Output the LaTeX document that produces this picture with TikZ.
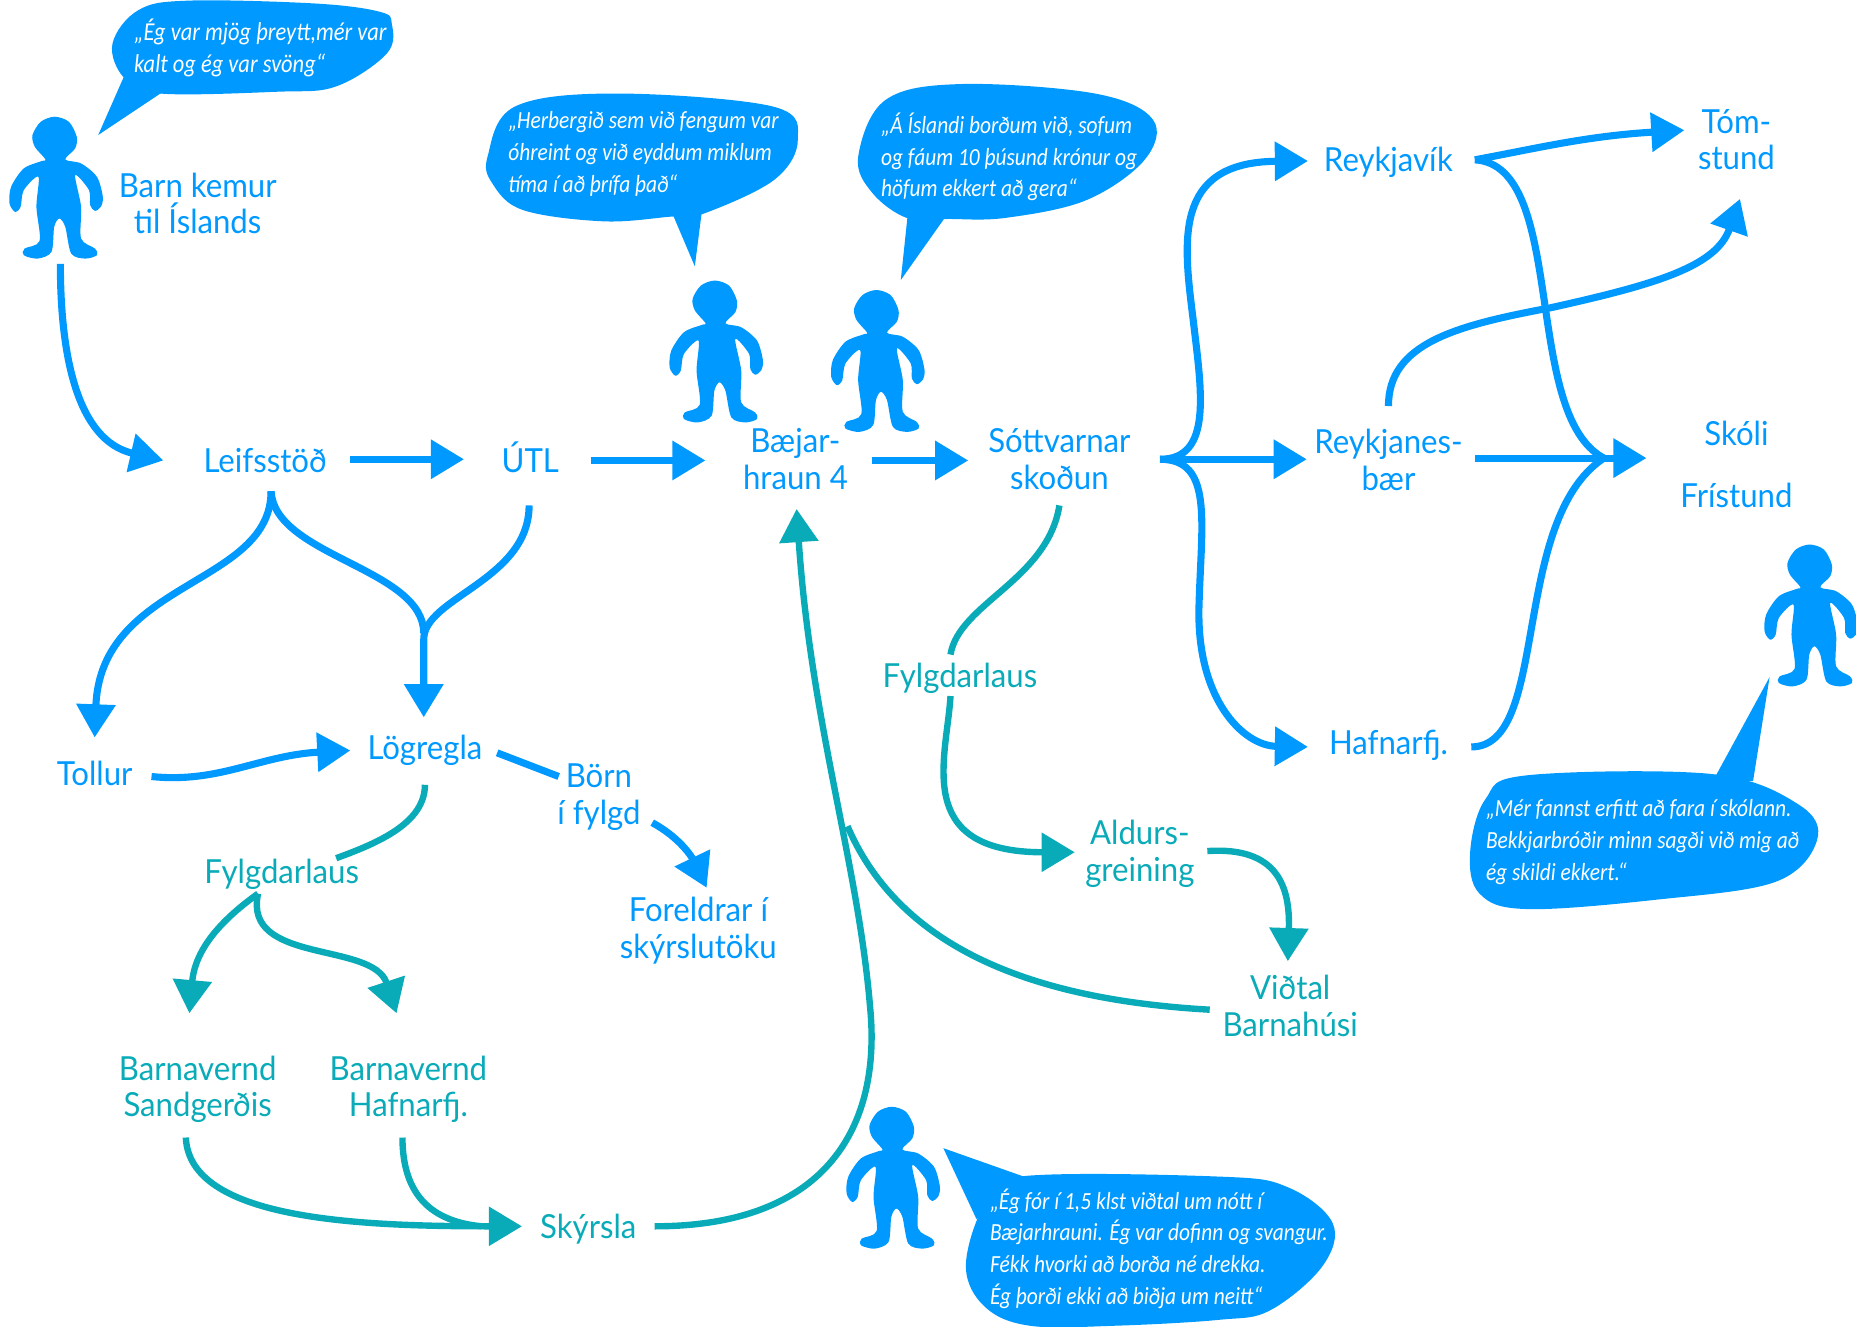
\documentclass[tikz,border=0pt]{standalone}
\usepackage{fontspec}
\setmainfont{Lato}
\newfontfamily\lblfont[FakeStretch=0.94]{Lato}
\newfontfamily\quotefont[FakeStretch=0.87,ItalicFont={Carlito Italic}]{Carlito}
\usetikzlibrary{arrows.meta,calc}
\definecolor{kblue}{HTML}{0099FF}
\definecolor{kteal}{HTML}{0AABB8}
\tikzset{
  lbl/.style={font=\lblfont\fontsize{14}{15.5}\selectfont,align=center,inner sep=0pt,anchor=center,text=kblue},
  tlbl/.style={lbl,text=kteal},
  oneline/.style={text height=11pt,text depth=1pt},
  quote/.style={font=\quotefont\itshape\fontsize{10.4}{13.5}\selectfont,align=left,inner sep=0pt,anchor=west,text=white},
  bl/.style={draw=kblue,line width=3pt},
  te/.style={draw=kteal,line width=2.7pt},
  blar/.style={bl,-{Triangle[length=14pt,width=16pt,fill=kblue]}},
  tear/.style={te,-{Triangle[length=14pt,width=16pt,fill=kteal]}},
}
\newcommand\twolines[2]{\raisebox{0pt}[11pt][1pt]{#1}\\\raisebox{0pt}[11pt][1pt]{#2}}
\newcommand\kid[2]{\fill[kblue,shift={(#1,#2)},xscale=.334,yscale=.282,shift={(-140,-350)}]
  plot[smooth cycle,tension=.5] coordinates{(115,478)(88,440)(82,405)(103,365)(138,350)(174,365)(194,410)(190,445)(165,478)(205,490)(245,530)(260,590)(255,620)(240,632)(228,615)(225,570)(190,525)(205,620)(205,715)(240,745)(245,765)(215,775)(180,760)(165,680)(150,655)(137,680)(130,755)(95,775)(60,765)(62,745)(100,722)(92,620)(97,530)(60,570)(52,620)(38,635)(24,610)(28,560)(60,505)(105,483)};}
\begin{document}
\begin{tikzpicture}[x=0.5pt,y=-0.5pt]
\useasboundingbox (0,0) rectangle (1568,1120.3);
% people
\kid{46.8}{98.6}
\kid{604.5}{237}
\kid{741}{245}
\kid{1529.5}{460}
\kid{754}{935}
% bubbles
\fill[kblue] plot[smooth cycle,tension=.6] coordinates{(105,66)(135,79)(234,77.5)(284,73)(327,45)(331,20)(321,10)(267,3)(160,0.5)(117,8.5)(95,37)};
\fill[kblue] (105,64)--(83,114)--(137,78)--cycle;
\fill[kblue] plot[smooth cycle,tension=.6] coordinates{(412,132)(435,90)(521,79)(653,90)(674,118)(654,152)(593,181)(567,183)(510,187)(442,177.5)(416,155)};
\fill[kblue] (593,178)--(587,225)--(567,178)--cycle;
\fill[kblue] plot[smooth cycle,tension=.6] coordinates{(725,132.6)(748,84.5)(812,71)(925,79)(974,101)(967,135)(918,169)(850,184)(801,185)(767,184.5)(737,163)};
\fill[kblue] (801,180)--(761,236.6)--(767,180)--cycle;
\fill[kblue] plot[smooth cycle,tension=.6] coordinates{(1255,675)(1290,655)(1447,654)(1520,680)(1535,710)(1500,745)(1400,760)(1290,768)(1250,755)(1242,720)};
\fill[kblue] (1447,660)--(1495,572)--(1481,660)--cycle;
\fill[kblue] plot[smooth cycle,tension=.6] coordinates{(861,994)(1030,994)(1088,1003)(1126,1033.6)(1117,1070)(1073,1107)(1030,1115)(942,1120)(870,1120)(832,1104)(816,1070)(831,1019)};
\fill[kblue] (797,970)--(865,994)--(825,1030)--cycle;
% quotes
\node[quote,font=\quotefont\itshape\fontsize{10.9}{13.5}\selectfont] (q1) at (113,40.5) {„Ég var mjög þreytt,mér var\\kalt og ég var svöng“};
\node[quote] (q2) at (429,130) {„Herbergið sem við fengum var\\óhreint og við eyddum miklum\\tíma í að þrífa það“};
\node[quote] (q3) at (744,132.5) {„Á Íslandi borðum við, sofum\\og fáum 10 þúsund krónur og\\höfum ekkert að gera“};
\node[quote] (q4) at (1255,711) {„Mér fannst erfitt að fara í skólann.\\Bekkjarbróðir minn sagði við mig að\\ég skildi ekkert.“};
\node[quote] (q5) at (836,1055) {„Ég fór í 1,5 klst viðtal um nótt í\\Bæjarhrauni. Ég var dofinn og svangur.\\Fékk hvorki að borða né drekka.\\Ég þorði ekki að biðja um neitt“};
% labels
\node[lbl] (barn) at (167,172) {\twolines{Barn kemur}{til Íslands}};
\node[lbl,oneline] (leif) at (224,389) {Leifsstöð};
\node[lbl,oneline] (utl) at (448,389) {ÚTL};
\node[lbl] (baej) at (672,388) {\twolines{Bæjar-}{hraun 4}};
\node[lbl] (sott) at (895,388) {\twolines{Sóttvarnar}{skoðun}};
\node[lbl,oneline] (rvk) at (1173,135) {Reykjavík};
\node[lbl] (rnb) at (1173,389) {\twolines{Reykjanes-}{bær}};
\node[lbl,oneline] (hfj) at (1173,627) {Hafnarfj.};
\node[lbl] (tom) at (1467,118) {\twolines{Tóm-}{stund}};
\node[lbl,oneline] (skoli) at (1467,366) {Skóli};
\node[lbl,oneline] (fri) at (1467,419) {Frístund};
\node[lbl,oneline] (toll) at (80,654) {Tollur};
\node[lbl,oneline] (log) at (359,632) {Lögregla};
\node[lbl] (born) at (506,671) {\twolines{Börn}{í fylgd}};
\node[lbl] (fore) at (590,784) {\twolines{Foreldrar í}{skýrslutöku}};
\node[tlbl,oneline] (fyl) at (238,736) {Fylgdarlaus};
\node[tlbl] (bvs) at (167,918) {\twolines{Barnavernd}{Sandgerðis}};
\node[tlbl] (bvh) at (345,918) {\twolines{Barnavernd}{Hafnarfj.}};
\node[tlbl,oneline] (sky) at (497,1036) {Skýrsla};
\node[tlbl,oneline] (fyl2) at (811,571) {Fylgdarlaus};
\node[tlbl] (ald) at (963,719) {\twolines{Aldurs-}{greining}};
\node[tlbl] (vid) at (1090,850) {\twolines{Viðtal}{Barnahúsi}};
% helper point
\coordinate (fork) at (980,388);
\coordinate (merge) at (1391,387);
% blue connectors
\draw[blar] ($(barn)+(-116,51)$) .. controls (51,300) and (65,372) .. ($(leif)+(-86,0)$);
\draw[blar] ($(leif)+(72,-1)$) -- ($(utl)+(-56,-1)$);
\draw[blar] ($(utl)+(51,0)$) -- ($(baej)+(-76,1)$);
\draw[blar] ($(baej)+(65,1)$) -- ($(sott)+(-77,1)$);
\draw[blar] ($(leif)+(5,26)$) .. controls (229,495) and (85,490) .. ($(toll)+(0,-31)$);
\draw[bl] ($(leif)+(5,26)$) .. controls (232,470) and (358,480) .. (358,535);
\draw[blar] ($(utl)+(-1,38)$) .. controls (447,490) and (358,505) .. (358,540) -- ($(log)+(-1,-26)$);
\draw[blar] ($(toll)+(48,2)$) .. controls (185,662) and (220,638) .. ($(log)+(-63,2)$);
\draw[bl] ($(log)+(61,4)$) -- ($(born)+(-34,-15)$);
\draw[blar] ($(born)+(45,24)$) .. controls (575,708) and (585,725) .. ($(fore)+(7,-34)$);
\draw[blar] (fork) .. controls (1025,388) and (1015,330) .. (1008,270) .. controls (1000,205) and (990,137) .. ($(rvk)+(-68,1)$);
\draw[blar] (fork) -- ($(rnb)+(-69,-1)$);
\draw[blar] (fork) .. controls (1025,388) and (1015,440) .. (1013,510) .. controls (1010,590) and (1050,630) .. ($(hfj)+(-68,4)$);
\draw[blar] ($(rvk)+(73,0)$) .. controls (1300,125) and (1340,115) .. ($(tom)+(-44,-8)$);
\draw[bl] ($(rvk)+(73,0)$) .. controls (1325,140) and (1285,350) .. (1355,387);
\draw[blar] ($(rnb)+(0,-46)$) .. controls (1173,290) and (1230,275) .. (1310,260) .. controls (1400,240) and (1450,225) .. ($(tom)+(3,50)$);
\draw[blar] ($(rnb)+(73,-2)$) -- (merge);
\draw[bl] ($(hfj)+(70,4)$) .. controls (1310,631) and (1275,440) .. (1355,387);
% teal connectors
\draw[te] ($(log)+(0,31)$) .. controls (359,695) and (320,712) .. ($(fyl)+(46,-11)$);
\draw[tear] ($(fyl)+(-20,19)$) .. controls (190,775) and (165,800) .. ($(bvs)+(-7,-62)$);
\draw[tear] ($(fyl)+(-20,19)$) .. controls (205,815) and (315,795) .. ($(bvh)+(-10,-62)$);
\draw[tear] ($(bvs)+(-10,43)$) .. controls (160,1030) and (300,1036) .. ($(sky)+(-56,0)$);
\draw[te] ($(bvh)+(-5,43)$) .. controls (340,1010) and (365,1032) .. ($(sky)+(-90,0)$);
\draw[tear] ($(sky)+(56,0)$) .. controls (700,1036) and (745,950) .. (735,850) .. controls (725,730) and (685,610) .. ($(baej)+(1,42)$);
\draw[te] ($(vid)+(-68,3)$) .. controls (880,845) and (762,805) .. (716,698);
\draw[te] ($(sott)+(0,39)$) .. controls (885,490) and (810,510) .. ($(fyl2)+(-8,-18)$);
\draw[tear] ($(fyl2)+(-8,17)$) .. controls (800,640) and (770,720) .. ($(ald)+(-55,1)$);
\draw[tear] ($(ald)+(57,0)$) .. controls (1080,715) and (1090,750) .. ($(vid)+(-2,-38)$);
\end{tikzpicture}
\end{document}
